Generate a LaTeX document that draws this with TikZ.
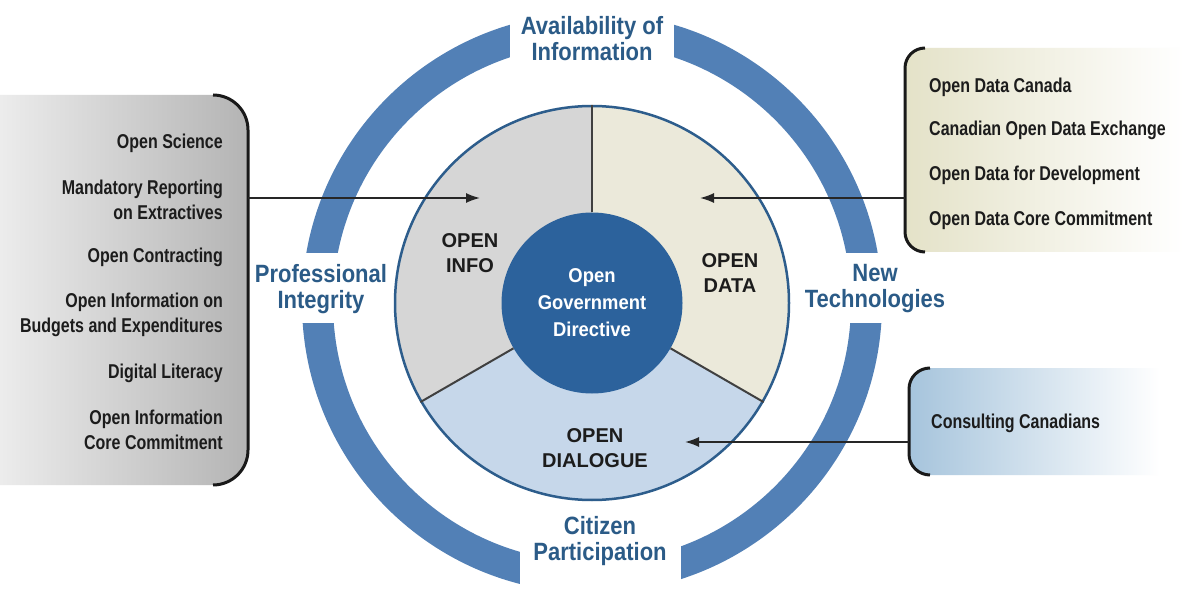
\documentclass[tikz,border=0pt]{standalone}
\usepackage{fontspec}
\setmainfont{Liberation Sans}
\newfontfamily\condb[FakeStretch=0.80]{Liberation Sans}
\newfontfamily\ringf[FakeStretch=0.88]{Liberation Sans}
\newfontfamily\ctrf[FakeStretch=0.92]{Liberation Sans}
\usetikzlibrary{arrows.meta}
\definecolor{ringblue}{RGB}{82,128,182}
\definecolor{ringtxt}{RGB}{43,91,135}
\definecolor{circedge}{RGB}{45,93,140}
\definecolor{infofill}{RGB}{214,214,214}
\definecolor{datafill}{RGB}{235,233,218}
\definecolor{dlgfill}{RGB}{198,215,234}
\definecolor{ctrfill}{RGB}{44,98,156}
\definecolor{txtdark}{RGB}{28,28,28}
\definecolor{lpanelL}{RGB}{236,236,236}
\definecolor{lpanelR}{RGB}{180,180,180}
\definecolor{rpanelL}{RGB}{228,226,200}
\definecolor{bpanelL}{RGB}{166,196,220}
\begin{document}
\begin{tikzpicture}[x=1pt,y=-1pt,
  listtxt/.style={font=\condb\bfseries\fontsize{20}{25.5}\selectfont, text=txtdark, inner sep=0pt},
  segtxt/.style={font=\bfseries\fontsize{20}{25}\selectfont, text=txtdark, align=center, inner sep=0pt},
  ringlbl/.style={font=\ringf\bfseries\fontsize{25}{26}\selectfont, text=ringtxt, align=center, inner sep=0pt},
  bracket/.style={line width=3pt, black!90},
  arr/.style={line width=1.6pt, black!85, -{Latex[length=14pt,width=10pt]}},
  divider/.style={line width=2pt, black!75}
]
\useasboundingbox (0,0) rectangle (1184,596);
\fill[white] (0,0) rectangle (1184,596);

% ---- outer ring with gaps ----
\draw[ringblue, line width=31pt] (592,303) circle[radius=274.5];
\fill[white] (510,0) rectangle (674,70);
\fill[white] (520,518) rectangle (681,596);
\fill[white] (270,253) rectangle (365,323);
\fill[white] (815,253) rectangle (925,323);

% ---- segments ----
\fill[infofill] (592,303) -- ++(270:197) arc[start angle=270, end angle=150, radius=197] -- cycle;
\fill[datafill] (592,303) -- ++(30:197) arc[start angle=30, end angle=-90, radius=197] -- cycle;
\fill[dlgfill] (592,303) -- ++(150:197) arc[start angle=150, end angle=30, radius=197] -- cycle;

\node[circle, draw=circedge, line width=2.5pt, minimum size=394pt, inner sep=0pt] (disk) at (592,303) {};
\node[circle, fill=ctrfill, minimum size=181pt, inner sep=0pt, text=white, align=center,
      font=\ctrf\bfseries\fontsize{20}{27}\selectfont] (ctr) at (592,303) {Open\\Government\\Directive};
\draw[divider] (ctr.90) -- (disk.90);
\draw[divider] (ctr.210) -- (disk.210);
\draw[divider] (ctr.330) -- (disk.330);

\node[segtxt] (info) at (470,253) {OPEN\\INFO};
\node[segtxt] (data) at (730,273) {OPEN\\DATA};
\node[segtxt] (dlg) at (595,448) {OPEN\\DIALOGUE};

% ---- ring labels ----
\node[ringlbl] (avail) at (592,39) {Availability of\\Information};
\node[ringlbl] (citz) at (600,541) {Citizen\\Participation};
\node[ringlbl] (prof) at (321,289) {Professional\\Integrity};
\node[ringlbl] (newt) at (875,289) {New\\Technologies};

% ---- left panel ----
\shade[left color=lpanelL, right color=lpanelR]
  (0,95) -- (213,95) arc[start angle=270, end angle=360, radius=35] -- (248,450)
  arc[start angle=0, end angle=90, radius=35] -- (0,485) -- cycle;
\draw[bracket] (213,95) arc[start angle=270, end angle=360, radius=35] -- (248,450)
  arc[start angle=0, end angle=90, radius=35];
\node[listtxt, anchor=east] (l1) at (223,143) {Open Science};
\node[listtxt, anchor=east, align=right] (l2) at (223,200) {Mandatory Reporting\\on Extractives};
\node[listtxt, anchor=east] (l3) at (223,257) {Open Contracting};
\node[listtxt, anchor=east, align=right] (l4) at (223,315) {Open Information on\\Budgets and Expenditures};
\node[listtxt, anchor=east] (l5) at (223,373) {Digital Literacy};
\node[listtxt, anchor=east, align=right] (l6) at (223,430) {Open Information\\Core Commitment};

% ---- right top panel ----
\shade[left color=rpanelL, right color=white]
  (1184,48) -- (925,48) arc[start angle=270, end angle=180, radius=20] -- (905,232)
  arc[start angle=180, end angle=90, radius=20] -- (1184,252) -- cycle;
\draw[bracket] (925,48) arc[start angle=270, end angle=180, radius=20] -- (905,232)
  arc[start angle=180, end angle=90, radius=20];
\node[listtxt, anchor=west] (r1) at (929,87) {Open Data Canada};
\node[listtxt, anchor=west] (r2) at (929,130) {Canadian Open Data Exchange};
\node[listtxt, anchor=west] (r3) at (929,175) {Open Data for Development};
\node[listtxt, anchor=west] (r4) at (929,220) {Open Data Core Commitment};

% ---- right bottom panel ----
\shade[left color=bpanelL, right color=white]
  (1160,368) -- (930,368) arc[start angle=270, end angle=180, radius=21] -- (909,454)
  arc[start angle=180, end angle=90, radius=21] -- (1160,475) -- cycle;
\draw[bracket] (930,368) arc[start angle=270, end angle=180, radius=21] -- (909,454)
  arc[start angle=180, end angle=90, radius=21];
\node[listtxt, anchor=west] (b1) at (931,423) {Consulting Canadians};

% ---- arrows ----
\coordinate (lbr) at (248,198);
\coordinate (infotip) at (480,198);
\coordinate (rbr) at (905,198);
\coordinate (datatip) at (700,198);
\coordinate (bbr) at (909,442);
\coordinate (dlgtip) at (685,442);
\draw[arr] (lbr) -- (infotip);
\draw[arr] (rbr) -- (datatip);
\draw[arr] (bbr) -- (dlgtip);
\end{tikzpicture}
\end{document}
